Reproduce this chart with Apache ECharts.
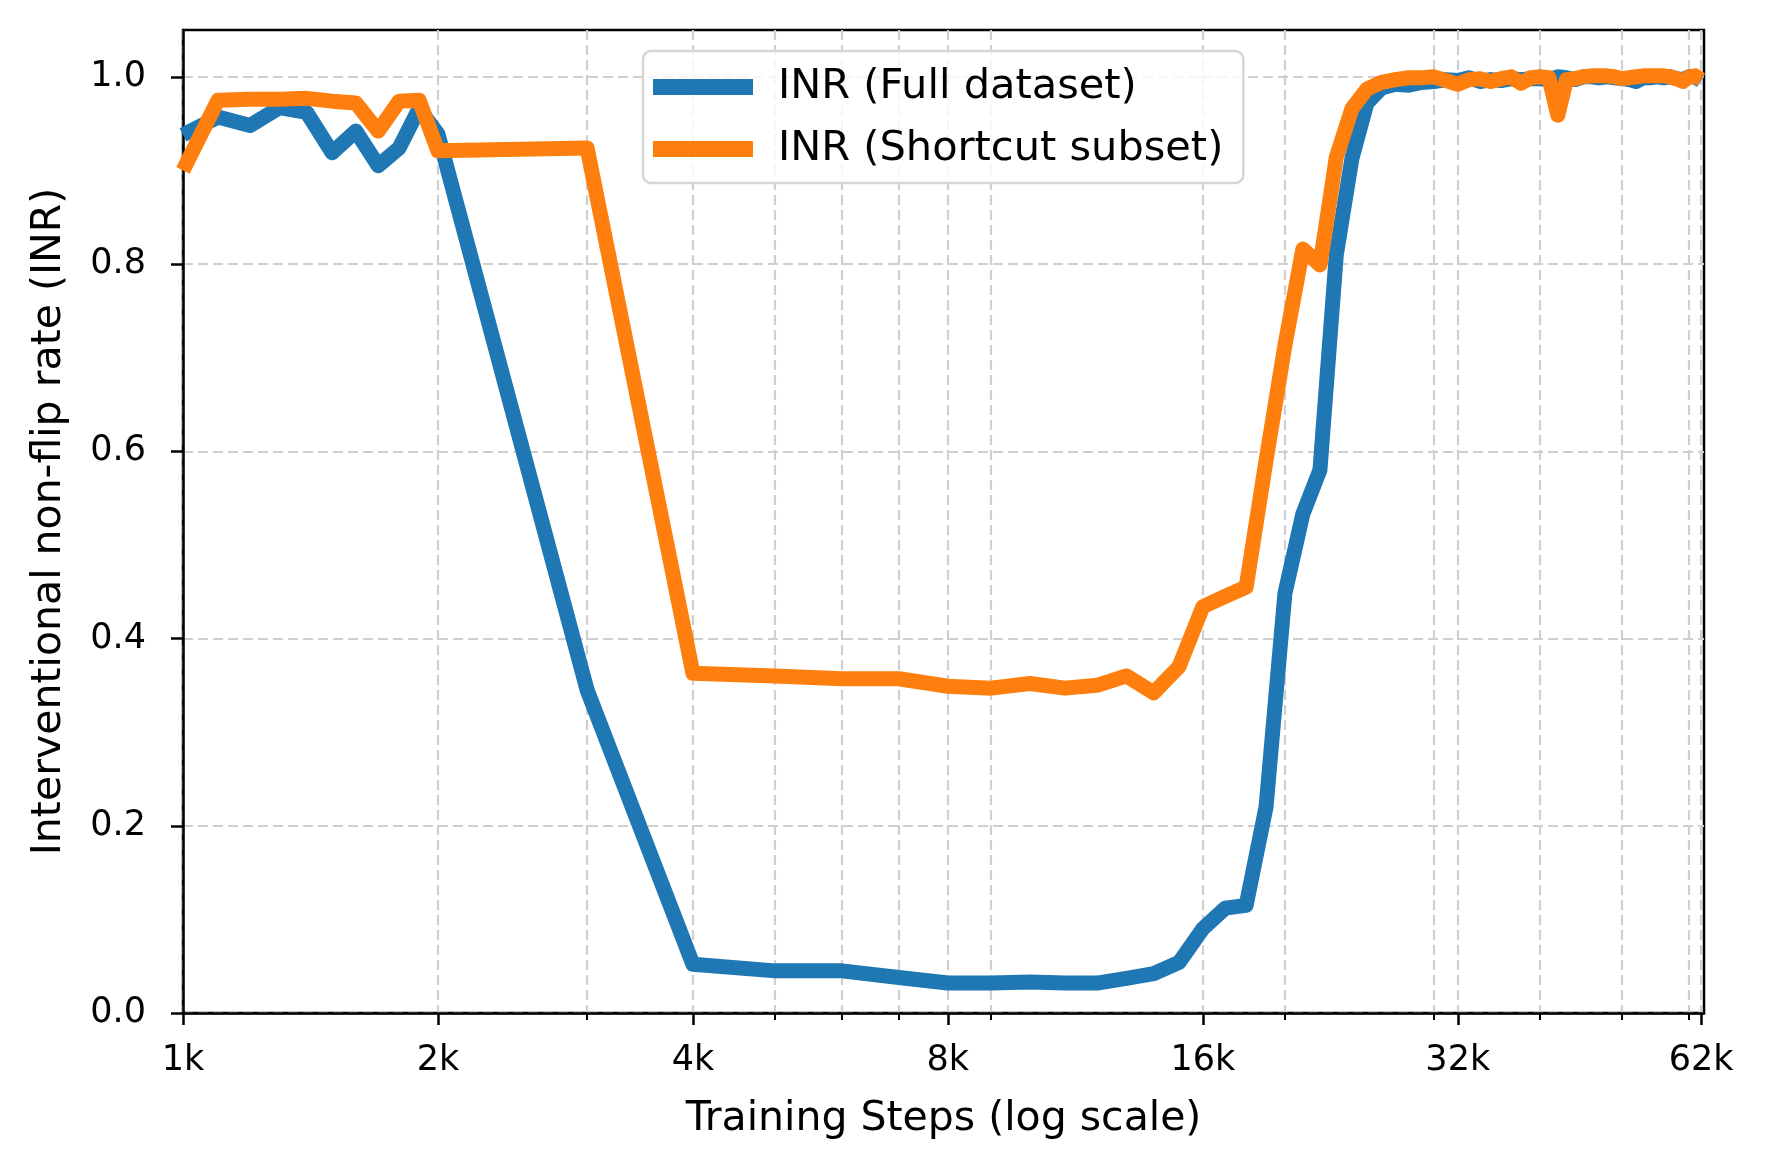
<!DOCTYPE html>
<html>
<head>
<meta charset="utf-8">
<title>INR over training steps</title>
<script src="https://cdn.jsdelivr.net/npm/echarts@6/dist/echarts.min.js"></script>
<style>
  html, body { margin: 0; padding: 0; background: #fff; }
  #chart { width: 1769px; height: 1170px; }
</style>
</head>
<body>
<div id="chart"></div>
<script>
// training steps (x)
var steps = [1000, 1100, 1200, 1300, 1400, 1500, 1600, 1700, 1800, 1900, 2000,
    3000, 4000, 5000, 6000, 7000, 8000, 9000, 10000, 11000, 12000, 13000, 14000, 15000,
    16000, 17000, 18000, 19000, 20000, 21000, 22000, 23000, 24000, 25000,
    26000, 27000, 28000, 29000, 30000, 31000, 32000, 33000, 34000, 35000,
    36000, 37000, 38000, 39000, 40000, 41000, 42000, 43000, 44000, 45000,
    46000, 47000, 48000, 49000, 50000, 51000, 52000, 53000, 54000, 55000,
    56000, 57000, 58000, 59000, 60000, 61000, 62000];

var inrFull = [0.938, 0.957, 0.948, 0.967, 0.962, 0.919, 0.942, 0.905, 0.924, 0.966, 0.939,
    0.345, 0.052, 0.045, 0.045, 0.038, 0.032, 0.032, 0.033, 0.032, 0.032, 0.037, 0.042, 0.054,
    0.090, 0.112, 0.115, 0.220, 0.448, 0.533, 0.580, 0.810, 0.913, 0.972,
    0.988, 0.992, 0.991, 0.994, 0.995, 0.997, 0.996, 0.999, 0.995, 0.997,
    0.996, 0.998, 0.997, 0.998, 0.998, 0.997, 1.000, 0.999, 0.997, 1.000,
    1.000, 0.999, 1.000, 0.999, 0.998, 0.997, 0.995, 0.999, 0.999, 1.000,
    0.999, 1.000, 0.998, 0.997, 1.000, 1.000, 0.996];

var inrShortcut = [0.900, 0.975, 0.976, 0.976, 0.977, 0.974, 0.972, 0.942, 0.974, 0.975, 0.921,
    0.924, 0.363, 0.360, 0.357, 0.357, 0.349, 0.347, 0.352, 0.347, 0.350, 0.360, 0.342, 0.370,
    0.434, 0.445, 0.455, 0.590, 0.713, 0.816, 0.799, 0.914, 0.966, 0.987,
    0.994, 0.997, 0.999, 0.999, 1.000, 0.996, 0.992, 0.997, 0.998, 0.995,
    0.998, 1.000, 0.993, 0.999, 1.000, 0.999, 0.959, 0.997, 0.998, 1.000,
    1.001, 1.001, 1.001, 1.000, 0.998, 0.999, 1.000, 1.001, 1.001, 1.001,
    1.001, 1.000, 0.998, 0.995, 1.000, 1.001, 0.997];

var seriesNames = ['INR (Full dataset)', 'INR (Shortcut subset)'];

// tick positions
var xMajorTicks = [1000, 2000, 4000, 8000, 16000, 32000, 62000];
var xMinorTicks = [3000, 5000, 6000, 7000, 9000, 20000, 30000, 40000, 50000, 60000];
var yTicks = [0, 0.2, 0.4, 0.6, 0.8, 1.0];

var FONT = 'DejaVu Sans';
var gridLine = { show: true, lineStyle: { color: '#cfcfcf', width: 2.2, type: [10, 5] } };

function pairs(ys) {
    return steps.map(function (s, i) { return [s, ys[i]]; });
}

var chartDom = document.getElementById('chart');
var myChart = echarts.init(chartDom, null, { renderer: 'canvas' });

var option = {
    animation: false,
    backgroundColor: '#fff',
    grid: {
        left: 183, right: 65, top: 30, bottom: 157,
        show: true, borderColor: '#000', borderWidth: 2.5,
        backgroundColor: 'transparent'
    },
    legend: {
        orient: 'vertical',
        left: 643, top: 51,
        padding: [12, 20, 10, 10],
        itemGap: 14,
        itemWidth: 100, itemHeight: 16,
        icon: 'rect',
        backgroundColor: 'rgba(255,255,255,0.8)',
        borderColor: '#d6d6d6', borderWidth: 2.5, borderRadius: 8,
        textStyle: { fontFamily: FONT, fontSize: 41.5, color: '#000', lineHeight: 48, padding: [0, 0, 0, 20] },
        data: seriesNames
    },
    xAxis: [{
        type: 'log', logBase: 2,
        min: 1000, max: 62500,
        name: 'Training Steps (log scale)',
        nameLocation: 'middle', nameGap: 86,
        nameTextStyle: { fontFamily: FONT, fontSize: 41, color: '#000' },
        axisLine: { show: true, lineStyle: { color: '#000', width: 2.5 } },
        axisTick: { show: true, length: 12, lineStyle: { color: '#000', width: 2.5 }, customValues: xMajorTicks },
        axisLabel: {
            fontFamily: FONT, fontSize: 35, color: '#000', margin: 30,
            customValues: xMajorTicks,
            formatter: function (v) { return Math.round(v / 1000) + 'k'; }
        },
        splitLine: gridLine
    }, {
        type: 'log', logBase: 2,
        min: 1000, max: 62500,
        position: 'bottom',
        axisLine: { show: false },
        axisTick: { show: true, length: 7, lineStyle: { color: '#000', width: 2 }, customValues: xMinorTicks },
        axisLabel: { show: false },
        splitLine: gridLine
    }],
    yAxis: {
        type: 'value',
        min: 0, max: 1.05,
        name: 'Interventional non-flip rate (INR)',
        nameLocation: 'middle', nameGap: 113,
        nameTextStyle: { fontFamily: FONT, fontSize: 41, color: '#000' },
        axisLine: { show: true, lineStyle: { color: '#000', width: 2.5 } },
        axisTick: { show: true, length: 12, lineStyle: { color: '#000', width: 2.5 }, customValues: yTicks },
        axisLabel: {
            fontFamily: FONT, fontSize: 35, color: '#000', margin: 37,
            customValues: yTicks,
            formatter: function (v) { return v.toFixed(1); }
        },
        splitLine: gridLine
    },
    series: [{
        name: seriesNames[0],
        type: 'line',
        xAxisIndex: 0,
        data: pairs(inrFull),
        showSymbol: false,
        color: '#1f77b4',
        lineStyle: { width: 15, color: '#1f77b4', join: 'round', cap: 'butt' }
    }, {
        name: seriesNames[1],
        type: 'line',
        xAxisIndex: 0,
        data: pairs(inrShortcut),
        showSymbol: false,
        color: '#ff7f0e',
        lineStyle: { width: 15, color: '#ff7f0e', join: 'round', cap: 'butt' }
    }]
};

myChart.setOption(option);

window.addEventListener('resize', function () {
    myChart.resize();
});
</script>
</body>
</html>
